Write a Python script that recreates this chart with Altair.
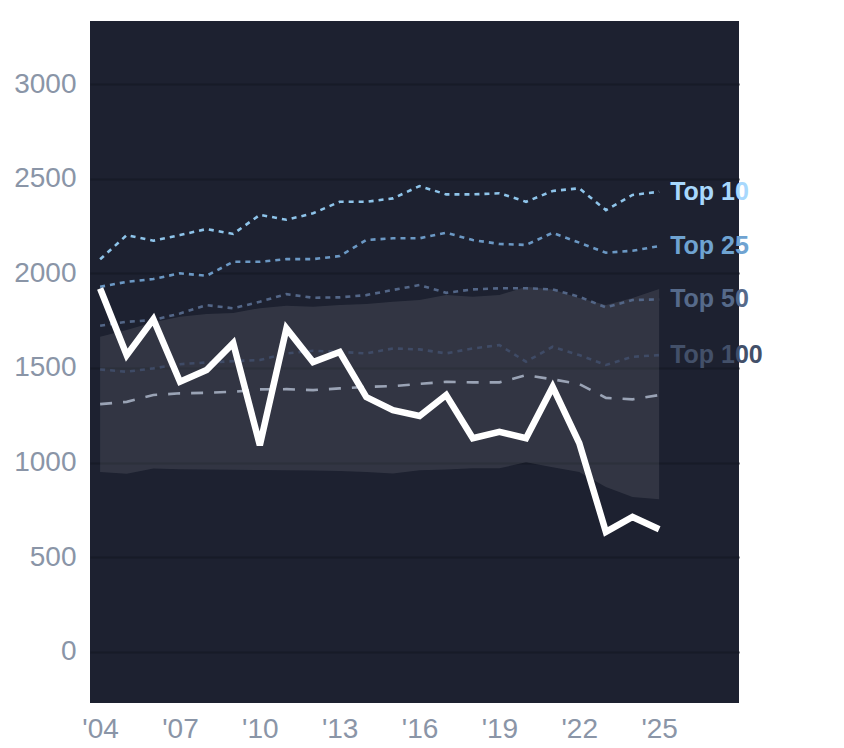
import altair as alt
import pandas as pd

years = list(range(2004, 2026))

main_line = [1920, 1568, 1757, 1427, 1489, 1631, 1092, 1709, 1531, 1584, 1346,
             1277, 1246, 1357, 1129, 1162, 1129, 1400, 1103, 634, 713, 648]

top10 = [2074, 2202, 2172, 2202, 2234, 2208, 2309, 2283, 2317, 2378, 2378,
         2396, 2461, 2417, 2417, 2423, 2378, 2435, 2449, 2334, 2414, 2431]
top25 = [1929, 1955, 1970, 2000, 1987, 2061, 2061, 2075, 2075, 2091, 2176,
         2185, 2185, 2214, 2176, 2155, 2150, 2214, 2162, 2109, 2119, 2144]
top50 = [1723, 1744, 1753, 1788, 1832, 1815, 1850, 1890, 1871, 1873, 1885,
         1912, 1938, 1897, 1915, 1921, 1921, 1915, 1876, 1820, 1859, 1862]
top100 = [1492, 1480, 1498, 1520, 1529, 1536, 1542, 1577, 1591, 1585, 1577,
          1603, 1598, 1577, 1603, 1621, 1533, 1612, 1568, 1516, 1559, 1568]
median_line = [1309, 1321, 1357, 1366, 1369, 1374, 1387, 1388, 1383, 1392, 1400,
               1404, 1416, 1427, 1424, 1424, 1462, 1440, 1415, 1342, 1334, 1357]

band_high = [1665, 1700, 1742, 1770, 1785, 1790, 1816, 1829, 1823, 1832, 1838,
             1850, 1859, 1885, 1876, 1885, 1929, 1915, 1869, 1832, 1869, 1917]
band_low = [951, 941, 969, 965, 963, 962, 961, 960, 958, 955, 950,
            942, 960, 964, 970, 970, 1002, 976, 950, 871, 818, 807]

series_names = ["Top 10", "Top 25", "Top 50", "Top 100"]
series_values = [top10, top25, top50, top100]
line_colors = ["#8ec4ea", "#6b98c4", "#536687", "#3f4b66"]
label_colors = ["#a8d8fd", "#6fa3d1", "#566a8a", "#435069"]

x_ticks = [2004, 2007, 2010, 2013, 2016, 2019, 2022, 2025]
y_ticks = [0, 500, 1000, 1500, 2000, 2500, 3000]

xscale = alt.Scale(domain=[2003.62, 2028], nice=False, zero=False)
yscale = alt.Scale(domain=[-270, 3333], nice=False, zero=False)

xaxis = alt.Axis(values=x_ticks, labelExpr="\"'\" + substring(toString(datum.value), 2)",
                 grid=False, ticks=False, tickSize=0, domain=False, labelPadding=12,
                 title=None, labelFlush=False)
yaxis = alt.Axis(values=y_ticks, format="d", grid=True, gridColor="#171b27", gridWidth=2,
                 ticks=False, tickSize=0, domain=False, labelPadding=14, title=None)

band_df = pd.DataFrame({"year": years, "hi": band_high, "lo": band_low})
band = alt.Chart(band_df).mark_area(color="#ffffff", opacity=0.095).encode(
    x=alt.X("year:Q", scale=xscale, axis=xaxis),
    y=alt.Y("hi:Q", scale=yscale, axis=yaxis),
    y2="lo:Q",
)

layers = [band]

for name, vals, col in zip(series_names, series_values, line_colors):
    df = pd.DataFrame({"year": years, "value": vals})
    layers.append(
        alt.Chart(df).mark_line(color=col, strokeWidth=2.6, strokeDash=[5, 5]).encode(
            x=alt.X("year:Q", scale=xscale),
            y=alt.Y("value:Q", scale=yscale),
        )
    )

med_df = pd.DataFrame({"year": years, "value": median_line})
layers.append(
    alt.Chart(med_df).mark_line(color="#9aa3b5", strokeWidth=2.6, strokeDash=[12, 11]).encode(
        x=alt.X("year:Q", scale=xscale),
        y=alt.Y("value:Q", scale=yscale),
    )
)

main_df = pd.DataFrame({"year": years, "value": main_line})
layers.append(
    alt.Chart(main_df).mark_line(color="#ffffff", strokeWidth=6.5).encode(
        x=alt.X("year:Q", scale=xscale),
        y=alt.Y("value:Q", scale=yscale),
    )
)

lab_df = pd.DataFrame({
    "year": [years[-1]] * 4,
    "value": [v[-1] for v in series_values],
    "name": series_names,
})
labels = alt.Chart(lab_df).mark_text(
    align="left", baseline="middle", dx=11, fontSize=25, fontWeight="bold",
    font="Liberation Sans",
).encode(
    x=alt.X("year:Q", scale=xscale),
    y=alt.Y("value:Q", scale=yscale),
    text="name:N",
    color=alt.Color("name:N", scale=alt.Scale(domain=series_names, range=label_colors), legend=None),
)
layers.append(labels)

chart = alt.layer(*layers).properties(
    width=649,
    height=682,
    background="#ffffff",
    padding={"left": 5, "top": 13, "right": 5, "bottom": 5},
).configure_view(
    fill="#1d2130", stroke=None
).configure_axis(
    labelFont="Liberation Sans", labelFontSize=28, labelColor="#8a95a7"
)

chart.save("out.html", embed_options={"renderer": "svg", "actions": False})
